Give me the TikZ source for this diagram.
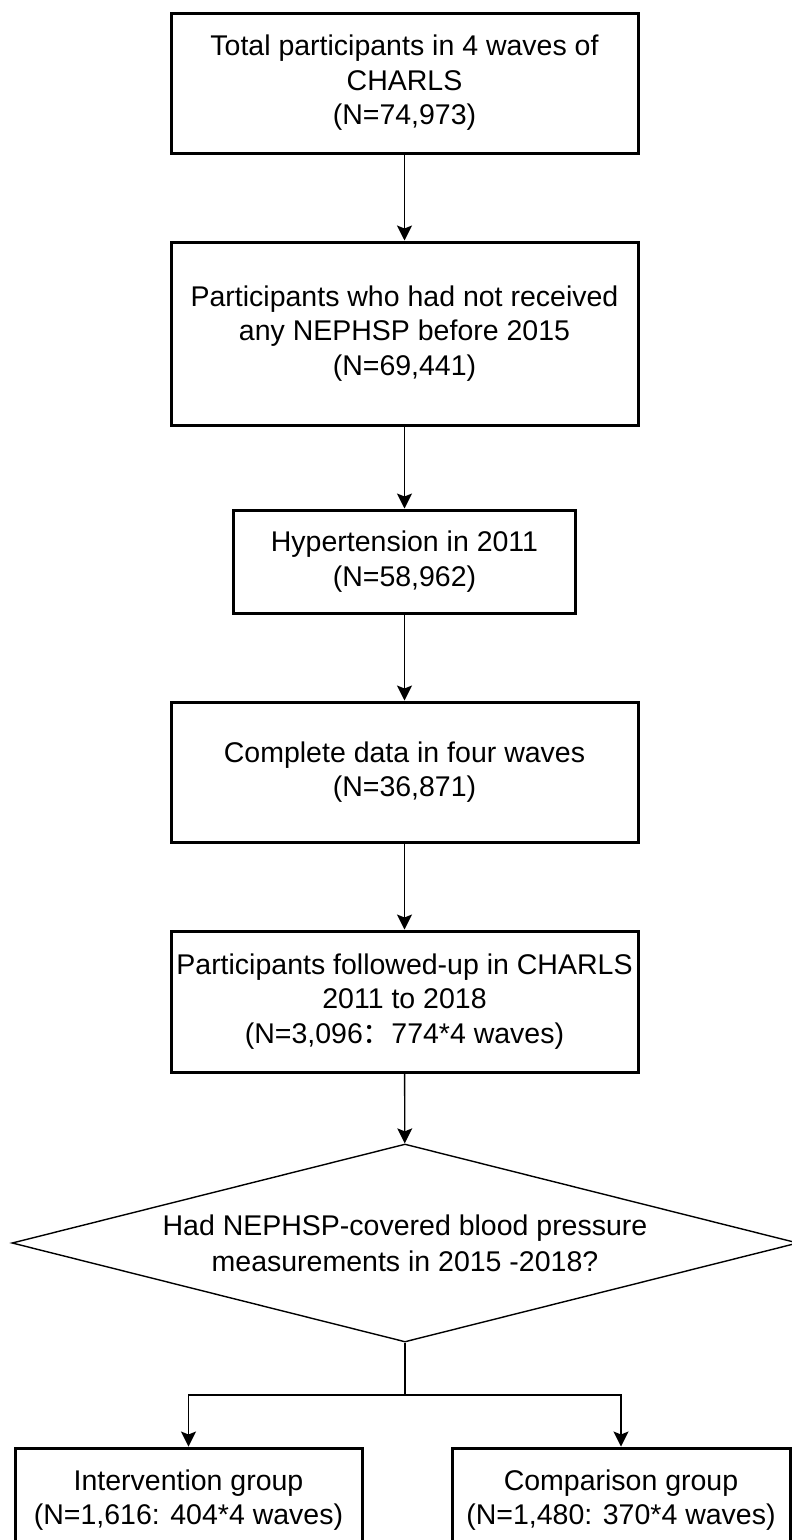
\documentclass[tikz,border=0pt]{standalone}
\usepackage{fontspec}
\setmainfont{Liberation Sans}
\newfontfamily\cjk{Noto Sans CJK SC}
\usetikzlibrary{arrows.meta,shapes.geometric}
\tikzset{
  boxnode/.style={draw=black, line width=3pt, rectangle, align=center, inner sep=2pt,
    font=\fontsize{28.5}{34.5}\selectfont},
  dianode/.style={draw=black, line width=1.4pt, diamond, aspect=3.97, align=center, inner sep=0pt,
    font=\fontsize{28.5}{36}\selectfont},
  arr/.style={draw=black, line width=1.4pt, -{Stealth[length=15pt,width=15pt,inset=3pt]}},
  plainline/.style={draw=black, line width=1.4pt}
}
\begin{document}
\begin{tikzpicture}[x=1pt,y=-1pt]
\useasboundingbox (0,0) rectangle (792,1540);
\begin{scope}
\clip (0,0) rectangle (792,1540);
\node[boxnode, minimum width=467pt, minimum height=140pt] (b1) at (404.5,83) {Total participants in 4 waves of\\CHARLS\\(N=74,973)};
\node[boxnode, minimum width=467pt, minimum height=183pt] (b2) at (404.5,333.5) {Participants who had not received\\any NEPHSP before 2015\\(N=69,441)};
\node[boxnode, minimum width=342pt, minimum height=103pt] (b3) at (404.5,561.5) {Hypertension in 2011\\(N=58,962)};
\node[boxnode, minimum width=467pt, minimum height=140pt] (b4) at (404.5,772) {Complete data in four waves\\(N=36,871)};
\node[boxnode, minimum width=467pt, minimum height=141pt] (b5) at (404.5,1001.5) {Participants followed-up in CHARLS\\2011 to 2018\\(N=3,096{\cjk ：}774*4 waves)};
\node[dianode, minimum width=786pt, minimum height=198pt] (d) at (405,1243) {Had NEPHSP-covered blood pressure\\measurements in 2015 -2018?};
\node[boxnode, minimum width=347pt, minimum height=104pt] (b6) at (188.5,1500) {Intervention group\\(N=1,616: 404*4 waves)};
\node[boxnode, minimum width=338pt, minimum height=104pt] (b7) at (621,1500) {Comparison group\\(N=1,480: 370*4 waves)};
\coordinate (sp) at (405,1395);
\draw[arr] (b1) -- (b2);
\draw[arr] (b2) -- (b3);
\draw[arr] (b3) -- (b4);
\draw[arr] (b4) -- (b5);
\draw[arr] (b5) -- (d);
\draw[plainline] (d.south) -- (sp);
\draw[arr] (sp) -| (b6);
\draw[arr] (sp) -| (b7);
\end{scope}
\end{tikzpicture}
\end{document}
